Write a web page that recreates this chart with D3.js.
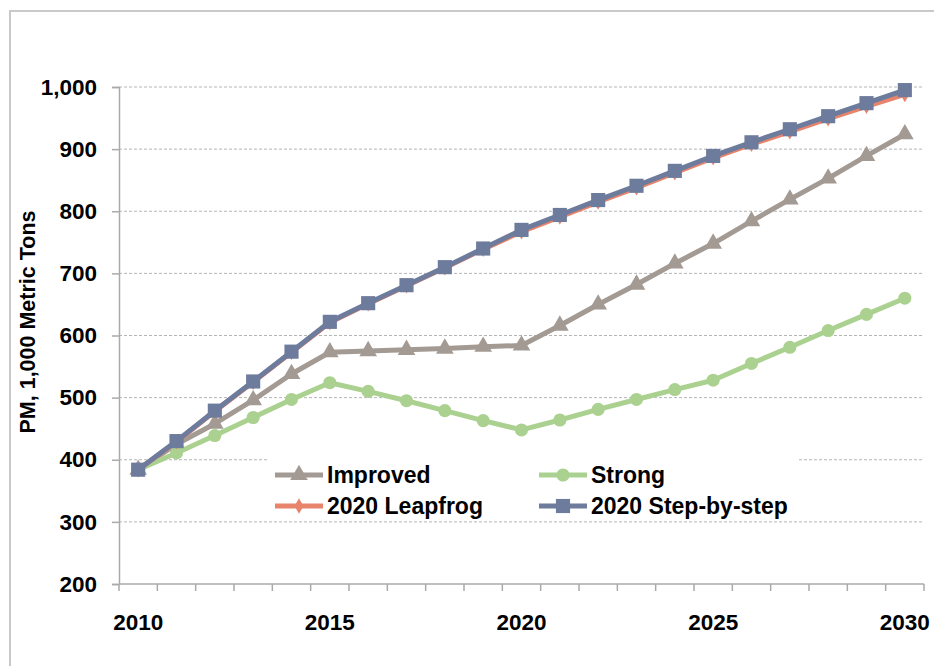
<!DOCTYPE html>
<html>
<head>
<meta charset="utf-8">
<script src="https://cdn.jsdelivr.net/npm/d3@7"></script>
<style>
  html, body { margin: 0; padding: 0; background: #fff; }
  svg { display: block; font-family: "Liberation Sans", Arial, Helvetica, sans-serif; }
</style>
</head>
<body>
<svg id="chart" width="934" height="666"></svg>
<script>
const years = [2010,2011,2012,2013,2014,2015,2016,2017,2018,2019,2020,2021,2022,2023,2024,2025,2026,2027,2028,2029,2030];
const improved   = [384,425,458,496,538,573,575,577,579,582,584,616,650,682,716,748,784,819,853,889,924];
const strong     = [384,411,439,468,497,524,510,495,479,463,448,464,481,497,513,528,555,581,608,634,660];
const leapfrog   = [384,429,478,525,573,621,651,680,709,739,767,791,815,838,862,886,908,928,949,969,988];
const stepByStep = [384,430,479,526,574,622,652,681,710,740,770,794,818,841,865,889,911,932,953,974,995];
const yTicks = [200,300,400,500,600,700,800,900,1000];
const xLabels = [2010,2015,2020,2025,2030];
const seriesNames = ["Improved","Strong","2020 Leapfrog","2020 Step-by-step"];

const colors = {
  "Improved": "#a39a93",
  "Strong": "#abd190",
  "2020 Leapfrog": "#e9846c",
  "2020 Step-by-step": "#6d7b9c"
};
const series = [
  {name: "Improved", values: improved, marker: "triangle"},
  {name: "Strong", values: strong, marker: "circle"},
  {name: "2020 Leapfrog", values: leapfrog, marker: "diamond"},
  {name: "2020 Step-by-step", values: stepByStep, marker: "square"}
];

const svg = d3.select("#chart");

// outer frame
svg.append("rect").attr("x", 10).attr("y", 11).attr("width", 940).attr("height", 700)
  .attr("fill", "none").attr("stroke", "#c9c9c9").attr("stroke-width", 2);

const x = d3.scaleBand().domain(years).range([119, 924]).padding(0);
const cx = d => x(d) + x.bandwidth() / 2;
const y = d3.scaleLinear().domain([200, 1000]).range([584, 87]);

// gridlines
svg.append("g").selectAll("line").data(yTicks.filter(t => t > 200)).join("line")
  .attr("x1", 119).attr("x2", 924)
  .attr("y1", d => y(d)).attr("y2", d => y(d))
  .attr("stroke", "#b5b5b5").attr("stroke-width", 1).attr("stroke-dasharray", "3,2");

// y axis
const yAxis = d3.axisLeft(y).tickValues(yTicks).tickSize(7).tickPadding(15)
  .tickFormat(d3.format(","));
const gy = svg.append("g").attr("transform", "translate(119,0)").call(yAxis);
gy.select(".domain").attr("stroke", "#aaaaaa").attr("stroke-width", 1.5);
gy.selectAll(".tick line").attr("stroke", "#aaaaaa").attr("stroke-width", 1.5);
gy.selectAll(".tick text").attr("font-size", 22.5).attr("font-weight", "bold")
  .attr("fill", "#000").attr("font-family", "Liberation Sans, Arial, sans-serif");

// x axis line + ticks at band boundaries
const boundaries = years.map(d => x(d)).concat([x(years[years.length - 1]) + x.bandwidth()]);
svg.append("line").attr("x1", 119).attr("x2", 924).attr("y1", y(200)).attr("y2", y(200))
  .attr("stroke", "#aaaaaa").attr("stroke-width", 1.5);
svg.append("g").selectAll("line").data(boundaries).join("line")
  .attr("x1", d => d).attr("x2", d => d)
  .attr("y1", y(200)).attr("y2", y(200) + 7)
  .attr("stroke", "#aaaaaa").attr("stroke-width", 1.5);
svg.append("g").selectAll("text").data(xLabels).join("text")
  .attr("x", d => cx(d)).attr("y", 630)
  .attr("text-anchor", "middle")
  .attr("font-size", 22.5).attr("font-weight", "bold").attr("fill", "#000")
  .text(d => d);

// y axis title
svg.append("text")
  .attr("transform", "translate(35,322) rotate(-90)")
  .attr("text-anchor", "middle")
  .attr("font-size", 21.5).attr("font-weight", "bold").attr("fill", "#000")
  .text("PM, 1,000 Metric Tons");

// marker symbols
const symbolFor = {
  triangle: d3.symbol().type(d3.symbolTriangle).size(135),
  circle: d3.symbol().type(d3.symbolCircle).size(135),
  diamond: d3.symbol().type(d3.symbolDiamond).size(70),
  square: d3.symbol().type(d3.symbolSquare).size(200)
};

const line = d3.line().x((d, i) => cx(years[i])).y(d => y(d));

series.forEach(s => {
  const g = svg.append("g");
  g.append("path").datum(s.values).attr("d", line)
    .attr("fill", "none").attr("stroke", colors[s.name]).attr("stroke-width", 5)
    .attr("stroke-linejoin", "round");
  g.selectAll("path.m").data(s.values).join("path").attr("class", "m")
    .attr("transform", (d, i) => `translate(${cx(years[i])},${y(d)})`)
    .attr("d", symbolFor[s.marker]())
    .attr("fill", colors[s.name]);
});

// legend
const legend = svg.append("g");
legend.append("rect").attr("x", 267).attr("y", 455).attr("width", 530).attr("height", 63).attr("fill", "#fff");
const legendPos = [
  {name: "Improved", marker: "triangle", x: 275, y: 475},
  {name: "Strong", marker: "circle", x: 539, y: 475},
  {name: "2020 Leapfrog", marker: "diamond", x: 275, y: 506},
  {name: "2020 Step-by-step", marker: "square", x: 539, y: 506}
];
legendPos.forEach(p => {
  legend.append("line").attr("x1", p.x).attr("x2", p.x + 48).attr("y1", p.y).attr("y2", p.y)
    .attr("stroke", colors[p.name]).attr("stroke-width", 5);
  legend.append("path").attr("transform", `translate(${p.x + 24},${p.y})`)
    .attr("d", symbolFor[p.marker]()).attr("fill", colors[p.name]);
  legend.append("text").attr("x", p.x + 52).attr("y", p.y + 8)
    .attr("font-size", 23).attr("font-weight", "bold").attr("fill", "#000")
    .text(p.name);
});
</script>
</body>
</html>
